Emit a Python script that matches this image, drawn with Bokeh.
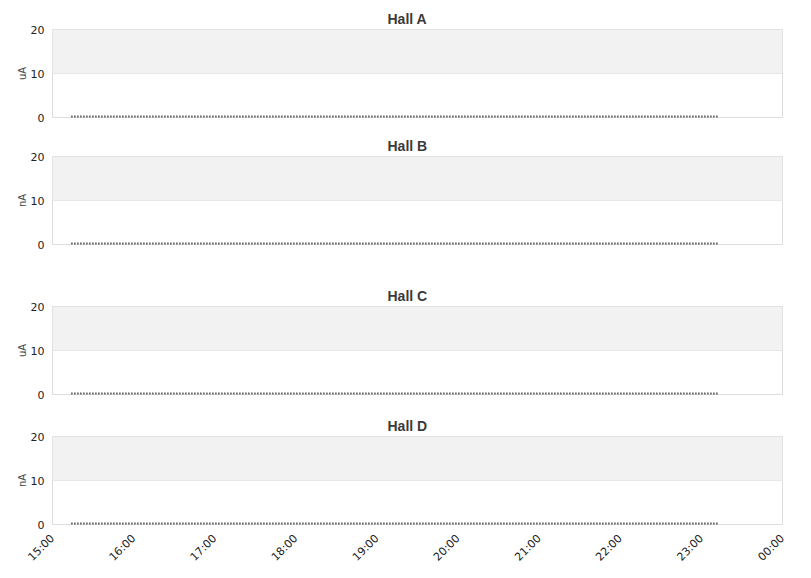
from datetime import datetime
from bokeh.plotting import figure
from bokeh.layouts import column
from bokeh.models import BoxAnnotation, FixedTicker, DatetimeTickFormatter, DatetimeTicker
from bokeh.embed import file_html
from bokeh.resources import INLINE
import math

# Data
halls = ["Hall A", "Hall B", "Hall C", "Hall D"]
units = ["uA", "nA", "uA", "nA"]
times = ["2024-01-01 15:14", "2024-01-01 23:13"]
currents = {
    "Hall A": [0, 0],
    "Hall B": [0, 0],
    "Hall C": [0, 0],
    "Hall D": [0, 0],
}
x_start = "2024-01-01 15:00"
x_end = "2024-01-02 00:00"
y_ticks = [0, 10, 20]

fmt = "%Y-%m-%d %H:%M"
t = [datetime.strptime(s, fmt) for s in times]
xs = datetime.strptime(x_start, fmt)
xe = datetime.strptime(x_end, fmt)

tops = [29, 29, 52, 32]
bottoms = [10, 10, 10, 46]

figs = []
for i, hall in enumerate(halls):
    last = i == len(halls) - 1
    p = figure(x_axis_type="datetime", x_range=(xs, xe), y_range=(0, 20),
               frame_width=730, frame_height=88,
               min_border_left=52, min_border_right=21,
               min_border_top=tops[i], min_border_bottom=bottoms[i],
               output_backend="svg", toolbar_location=None,
               background_fill_color="white", border_fill_color="white")
    p.title.text = hall
    p.title.align = "left"
    p.title.offset = 335
    p.title.text_font = "Liberation Sans"
    p.title.text_font_size = "14px"
    p.title.text_font_style = "bold"
    p.title.text_color = "#3a3a3a"
    p.title.standoff = 6
    p.outline_line_color = "#dddddd"
    p.outline_line_width = 1
    p.add_layout(BoxAnnotation(bottom=10, top=20, fill_color="#f2f2f2", fill_alpha=1.0, line_color=None, level="underlay"))
    p.xgrid.visible = False
    p.ygrid.ticker = FixedTicker(ticks=[10])
    p.ygrid.grid_line_color = "#dddddd"
    p.yaxis.ticker = FixedTicker(ticks=y_ticks)
    p.yaxis.axis_line_color = None
    p.yaxis.major_tick_line_color = None
    p.yaxis.minor_tick_line_color = None
    p.yaxis.major_tick_out = 0
    p.yaxis.minor_tick_out = 0
    p.yaxis.major_label_text_font = "DejaVu Sans"
    p.yaxis.major_label_text_font_size = "11px"
    p.yaxis.major_label_text_color = "#222222"
    p.yaxis.major_label_standoff = 8
    p.yaxis.axis_label = units[i]
    p.yaxis.axis_label_text_font = "DejaVu Sans"
    p.yaxis.axis_label_text_font_size = "10px"
    p.yaxis.axis_label_text_font_style = "normal"
    p.yaxis.axis_label_text_color = "#444444"
    p.yaxis.axis_label_standoff = 0
    if last:
        p.xaxis.ticker = DatetimeTicker(desired_num_ticks=10)
        p.xaxis.formatter = DatetimeTickFormatter(hours="%H:%M", days="%H:%M", hourmin="%H:%M")
        p.xaxis.major_label_orientation = math.pi / 4
        p.xaxis.axis_line_color = None
        p.xaxis.major_tick_line_color = None
        p.xaxis.minor_tick_line_color = None
        p.xaxis.major_tick_out = 0
        p.xaxis.minor_tick_out = 0
        p.xaxis.major_label_text_font = "DejaVu Sans"
        p.xaxis.major_label_text_font_size = "11px"
        p.xaxis.major_label_text_color = "#222222"
        p.xaxis.major_label_standoff = 12
    else:
        p.xaxis.visible = False
    p.line(t, currents[hall], line_color="#000000", line_width=4, line_dash="1 2", line_cap="butt")
    figs.append(p)

layout = column(*figs, spacing=0)
open("out.html", "w").write(file_html(layout, INLINE))
